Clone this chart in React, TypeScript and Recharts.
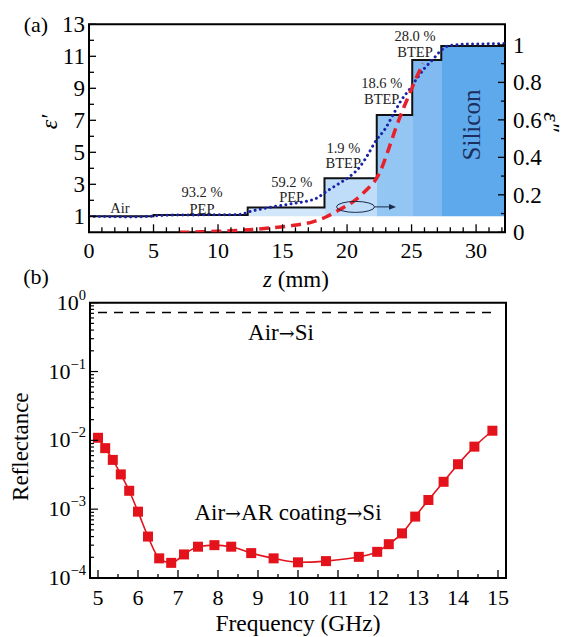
import React from 'react';
import { ComposedChart, Line, XAxis, YAxis, ReferenceArea } from 'recharts';

const SERIF = "'Liberation Serif', 'Times New Roman', 'DejaVu Serif', serif";
const FONT_STYLE: React.CSSProperties = { fontFamily: SERIF };

// ---------- Panel (a) data ----------
const stepZ = [0, 5, 12.3, 18.25, 22.3, 25.05, 27.3, 32.24];
const stepEps = [1, 1.08, 1.55, 3.38, 7.33, 10.77, 11.64, 11.64];

const layerStart = [12.3, 18.25, 22.3, 25.05, 27.3];
const layerEnd = [18.25, 22.3, 25.05, 27.3, 32.24];
const layerTop = [1.55, 3.38, 7.33, 10.77, 11.64];
const layerBase = 1;

const gradedZ = [0, 1.5, 3, 4.5, 5.5, 7, 9, 11, 11.7, 12.5, 14.3, 15.8, 17.6, 18.4, 19.4, 20.2, 21, 21.5, 22.3, 22.9, 23.6, 24.2, 24.9, 25.4, 26, 26.65, 27.2, 27.8, 28.5, 29.5, 31, 32.24];
const gradedEps = [1.0, 0.98, 0.96, 0.99, 1.05, 1.08, 1.09, 1.1, 1.12, 1.3, 1.6, 1.8, 2.12, 2.55, 3.06, 3.48, 4.1, 4.7, 5.8, 6.4, 7.4, 8.25, 9.0, 9.6, 10.25, 10.8, 11.3, 11.64, 11.72, 11.77, 11.78, 11.8];

const lossZ = [7, 8, 9, 10, 11, 12, 13.75, 15.5, 17.4, 18.4, 19.4, 20.5, 21.5, 22.3, 22.6, 23.2, 23.8, 24.3, 24.85, 25.4, 25.9];
const lossEps = [0, 0.001, 0.003, 0.005, 0.008, 0.012, 0.021, 0.034, 0.057, 0.083, 0.12, 0.165, 0.226, 0.29, 0.33, 0.44, 0.56, 0.65, 0.74, 0.83, 0.9];

const zTicks = Array.from({ length: 33 }, (_, i) => i);
const epsRealTicks = [1, 2, 3, 4, 5, 6, 7, 8, 9, 10, 11, 12, 13];
const epsImagTicks = [0, 0.1, 0.2, 0.3, 0.4, 0.5, 0.6, 0.7, 0.8, 0.9, 1.0];

// ---------- Panel (b) data ----------
const freqGHz = [5.0, 5.18, 5.37, 5.57, 5.78, 6.0, 6.25, 6.53, 6.83, 7.15, 7.5, 7.91, 8.33, 8.83, 9.39, 10.0, 10.7, 11.52, 11.98, 12.27, 12.6, 12.93, 13.26, 13.64, 14.0, 14.41, 14.86];
const reflectance = [1.09e-2, 7.7e-3, 5.2e-3, 3.2e-3, 1.85e-3, 9.2e-4, 4.0e-4, 1.93e-4, 1.66e-4, 2.2e-4, 2.85e-4, 3.0e-4, 2.85e-4, 2.3e-4, 1.93e-4, 1.69e-4, 1.76e-4, 2.03e-4, 2.4e-4, 3.1e-4, 4.45e-4, 7.8e-4, 1.36e-3, 2.5e-3, 4.5e-3, 8.1e-3, 1.38e-2];
const airSiFreq = [5, 15];
const airSiR = [0.72, 0.72];
const freqTicks = Array.from({ length: 21 }, (_, i) => 5 + i * 0.5);
const reflTicks: number[] = [];
for (let e = -4; e <= 0; e++) {
  for (let k = 1; k <= 9; k++) {
    if (e === 0 && k > 1) break;
    reflTicks.push(k * Math.pow(10, e));
  }
}

// ---------- styles ----------
const LAYER_FILLS = ['#d3e7fb', '#bfdcf8', '#94c6f3', '#80baf0', '#5ea8ec'];

const stepData = stepZ.map((z, i) => ({ z, v: stepEps[i] }));
const gradedData = gradedZ.map((z, i) => ({ z, v: gradedEps[i] }));
const lossData = lossZ.map((z, i) => ({ z, v: lossEps[i] }));
const reflData = freqGHz.map((f, i) => ({ f, r: reflectance[i] }));
const airSiData = airSiFreq.map((f, i) => ({ f, r: airSiR[i] }));

const TICK_FONT = 22;

const bottomTick = (isMajor: (v: number) => boolean, fmt: (v: number) => string, majorLen: number, minorLen: number, dy: number) =>
  (props: any) => {
    const { x, y, payload } = props;
    const v = payload.value;
    const m = isMajor(v);
    return (
      <g>
        <line x1={x} x2={x} y1={y} y2={y - (m ? majorLen : minorLen)} stroke="#000" strokeWidth={1.3} />
        {m && (
          <text x={x} y={y + dy} textAnchor="middle" fontSize={TICK_FONT} style={FONT_STYLE} fill="#000">
            {fmt(v)}
          </text>
        )}
      </g>
    );
  };

const leftTickA = (props: any) => {
  const { x, y, payload } = props;
  const v = payload.value;
  const m = Math.round(v) % 2 === 1;
  return (
    <g>
      <line x1={x} x2={x + (m ? 7 : 5)} y1={y} y2={y} stroke="#000" strokeWidth={1.3} />
      {m && (
        <text x={x - 4} y={y} dy="0.35em" textAnchor="end" fontSize={TICK_FONT + 1} style={FONT_STYLE} fill="#000">
          {String(v)}
        </text>
      )}
    </g>
  );
};

const rightTickA = (props: any) => {
  const { x, y, payload } = props;
  const v = payload.value;
  const m = Math.round(v * 10) % 2 === 0;
  const label = v === 0 ? '0' : Math.abs(v - 1) < 1e-9 ? '1' : v.toFixed(1);
  return (
    <g>
      <line x1={x} x2={x - (m ? 7 : 4)} y1={y} y2={y} stroke="#000" strokeWidth={1.3} />
      {m && (
        <text x={x + 8} y={y} dy="0.35em" textAnchor="start" fontSize={TICK_FONT + 1} style={FONT_STYLE} fill="#000">
          {label}
        </text>
      )}
    </g>
  );
};

const leftTickB = (props: any) => {
  const { x, y, payload } = props;
  const v = payload.value;
  const lg = Math.log10(v);
  const m = Math.abs(lg - Math.round(lg)) < 1e-6;
  const ex = Math.round(lg);
  return (
    <g>
      <line x1={x} x2={x + (m ? 8 : 4)} y1={y} y2={y} stroke="#000" strokeWidth={1.2} />
      {m && (
        <text x={x - 4} y={y + 7} textAnchor="end" fontSize={TICK_FONT} style={FONT_STYLE} fill="#000">
          <tspan>10</tspan>
          <tspan dy={-10} fontSize={14.5}>{ex === 0 ? '0' : '\u2212' + Math.abs(ex)}</tspan>
        </text>
      )}
    </g>
  );
};

const SquareDot = (props: any) => {
  const { cx, cy, index } = props;
  if (cx == null || cy == null) return <g key={index} />;
  return <rect key={index} x={cx - 5} y={cy - 5} width={10} height={10} fill="#e3121b" />;
};

const absStyle: React.CSSProperties = { position: 'absolute', left: 0, top: 0 };
const ARROW_FONT: React.CSSProperties = { fontFamily: "'DejaVu Serif', serif" };

export default function App() {
  return (
    <div style={{ position: 'absolute', left: 0, top: 0, width: 564, height: 637, background: '#fff', overflow: 'hidden' }}>
      <div style={absStyle}>
        <ComposedChart width={564} height={637} margin={{ top: 24.3, right: 0, left: 0, bottom: 374.7 }}>
          <XAxis
            xAxisId="z"
            dataKey="z"
            type="number"
            domain={[0, 32.24]}
            allowDataOverflow
            ticks={zTicks}
            interval={0}
            height={30}
            axisLine={false}
            tickLine={false}
            tickSize={0}
            tickMargin={0}
            tick={bottomTick((v) => v % 5 === 0, (v) => String(v), 8, 5, 26)}
          />
          <YAxis
            yAxisId="left"
            orientation="left"
            type="number"
            domain={[0, 13]}
            allowDataOverflow
            ticks={epsRealTicks}
            interval={0}
            width={89}
            axisLine={false}
            tickLine={false}
            tickSize={0}
            tickMargin={0}
            tick={leftTickA}
          />
          <YAxis
            yAxisId="right"
            orientation="right"
            type="number"
            domain={[0, 1.11]}
            allowDataOverflow
            ticks={epsImagTicks}
            interval={0}
            width={59}
            axisLine={false}
            tickLine={false}
            tickSize={0}
            tickMargin={0}
            tick={rightTickA}
          />
          {layerStart.map((s, i) => (
            <ReferenceArea
              key={'layer' + i}
              xAxisId="z"
              yAxisId="left"
              x1={s}
              x2={layerEnd[i]}
              y1={layerBase}
              y2={layerTop[i]}
              fill={LAYER_FILLS[i]}
              fillOpacity={1}
              stroke="none"
              ifOverflow="visible"
            />
          ))}
          <Line
            xAxisId="z"
            yAxisId="left"
            data={stepData}
            dataKey="v"
            type="stepAfter"
            stroke="#111"
            strokeWidth={2}
            dot={false}
            isAnimationActive={false}
          />
          <Line
            xAxisId="z"
            yAxisId="left"
            data={gradedData}
            dataKey="v"
            type="monotone"
            stroke="#1a22a8"
            strokeWidth={3}
            strokeDasharray="0.01 5.2"
            strokeLinecap="round"
            dot={false}
            isAnimationActive={false}
          />
          <Line
            xAxisId="z"
            yAxisId="right"
            data={lossData}
            dataKey="v"
            type="monotone"
            stroke="#e8202a"
            strokeWidth={3.5}
            strokeDasharray="10 6"
            dot={false}
            isAnimationActive={false}
          />
          <ReferenceArea
            xAxisId="z"
            yAxisId="left"
            x1={0}
            x2={32.24}
            y1={0}
            y2={13}
            fill="none"
            stroke="#000"
            strokeWidth={2}
            ifOverflow="visible"
          />
        </ComposedChart>
      </div>

      <div style={absStyle}>
        <ComposedChart width={564} height={637} margin={{ top: 302.7, right: 58, left: 0, bottom: 29 }}>
          <XAxis
            dataKey="f"
            type="number"
            domain={[4.8, 15.2]}
            allowDataOverflow
            ticks={freqTicks}
            interval={0}
            height={30}
            axisLine={false}
            tickLine={false}
            tickSize={0}
            tickMargin={0}
            tick={bottomTick((v) => Number.isInteger(v), (v) => String(v), 8, 4, 27)}
          />
          <YAxis
            type="number"
            scale="log"
            domain={[1e-4, 1]}
            allowDataOverflow
            ticks={reflTicks}
            interval={0}
            width={90}
            axisLine={false}
            tickLine={false}
            tickSize={0}
            tickMargin={0}
            tick={leftTickB}
          />
          <Line
            data={airSiData}
            dataKey="r"
            type="linear"
            stroke="#000"
            strokeWidth={1.6}
            strokeDasharray="9 7"
            dot={false}
            isAnimationActive={false}
          />
          <Line
            data={reflData}
            dataKey="r"
            type="monotone"
            stroke="#e3121b"
            strokeWidth={1.6}
            dot={SquareDot}
            isAnimationActive={false}
          />
          <ReferenceArea
            x1={4.8}
            x2={15.2}
            y1={1e-4}
            y2={1}
            fill="none"
            stroke="#000"
            strokeWidth={2}
            ifOverflow="visible"
          />
        </ComposedChart>
      </div>

      <svg width={564} height={637} style={{ ...absStyle, pointerEvents: 'none', fontFamily: SERIF }}>
        {/* panel labels */}
        <text x={36} y={24} dy="0.35em" textAnchor="middle" fontSize={22} fill="#000">(a)</text>
        <text x={36} y={276} dy="0.35em" textAnchor="middle" fontSize={22} fill="#000">(b)</text>

        {/* axis titles panel a */}
        <text transform="translate(49,122) rotate(-90)" dy="0.35em" textAnchor="middle" fontSize={24} fontStyle="italic" fill="#000">ε′</text>
        <text transform="translate(552,122) rotate(90)" dy="0.35em" textAnchor="middle" fontSize={24} fontStyle="italic" fill="#000">ε″</text>
        <text x={296} y={279} dy="0.35em" textAnchor="middle" fontSize={23} fill="#000">
          <tspan fontStyle="italic">z</tspan> (mm)
        </text>

        {/* annotations panel a */}
        <g fontSize={14.5} fill="#222" textAnchor="middle">
          <text x={120} y={208} dy="0.35em">Air</text>
          <text x={202} y={191.5} dy="0.35em">93.2 %</text>
          <text x={202} y={209} dy="0.35em">PEP</text>
          <text x={291.7} y={181.7} dy="0.35em">59.2 %</text>
          <text x={291.7} y={196.7} dy="0.35em">PEP</text>
          <text x={343.3} y={147.7} dy="0.35em">1.9 %</text>
          <text x={343.3} y={163.3} dy="0.35em">BTEP</text>
          <text x={381.7} y={83.3} dy="0.35em">18.6 %</text>
          <text x={381.7} y={99.3} dy="0.35em">BTEP</text>
          <text x={415} y={36} dy="0.35em">28.0 %</text>
          <text x={415} y={51.7} dy="0.35em">BTEP</text>
        </g>
        <text transform="translate(471.7,125) rotate(-90)" dy="0.35em" textAnchor="middle" fontSize={25} fill="#1a2f5e">Silicon</text>
        <ellipse cx={355.5} cy={206.9} rx={19} ry={5.5} fill="none" stroke="#1a2a4a" strokeWidth={1} />
        <line x1={374.5} y1={206.9} x2={391} y2={206.9} stroke="#1a2a4a" strokeWidth={1} />
        <polygon points="396,206.9 389,204 389,209.8" fill="#1a2a4a" />

        {/* panel b texts */}
        <text transform="translate(20,446.7) rotate(-90)" dy="0.35em" textAnchor="middle" fontSize={23} fill="#000">Reflectance</text>
        <text x={298} y={623} dy="0.35em" textAnchor="middle" fontSize={23.5} fill="#000">Frequency (GHz)</text>
        <text x={281} y={331.7} dy="0.35em" textAnchor="middle" fontSize={23} fill="#000">
          Air<tspan style={ARROW_FONT} fontSize={19}>→</tspan>Si
        </text>
        <text x={288} y={511.7} dy="0.35em" textAnchor="middle" fontSize={23} fill="#000">
          Air<tspan style={ARROW_FONT} fontSize={19}>→</tspan>AR coating<tspan style={ARROW_FONT} fontSize={19}>→</tspan>Si
        </text>
      </svg>
    </div>
  );
}
